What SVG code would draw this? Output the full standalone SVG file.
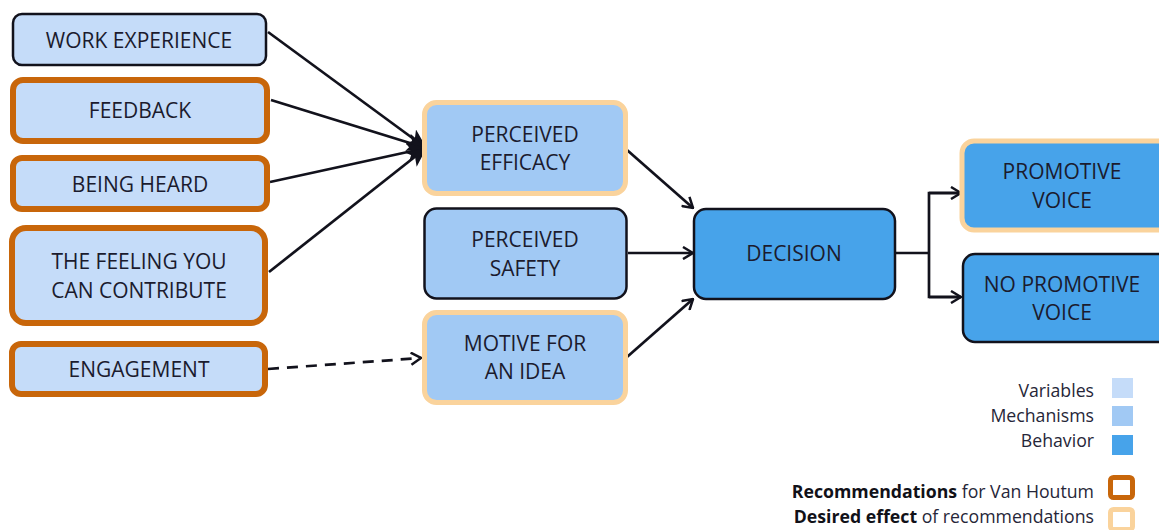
<svg xmlns="http://www.w3.org/2000/svg" width="1159" height="530" viewBox="0 0 1159 530">
  <defs>
    <style>
      text { font-family: "Open Sans", "Noto Sans", "Liberation Sans", sans-serif; fill: #1b1b2e; }
      .lbl { font-size: 21px; text-anchor: middle; }
      .leg { font-size: 17.7px; text-anchor: end; fill: #262638; }
      .var { fill: #c5dcf9; }
      .mech { fill: #a1c9f4; }
      .beh { fill: #47a3ea; }
      .plain { stroke: #12121c; stroke-width: 2.5; }
      .rec { stroke: #c8660a; stroke-width: 6; }
      .eff { stroke: #fad39c; stroke-width: 5; }
      .wire { fill: none; stroke: #12121c; stroke-width: 2.7; }
      .dash { stroke-dasharray: 11 8; }
    </style>
    <marker id="solid" viewBox="0 0 20 18" refX="19" refY="9" markerWidth="20" markerHeight="18" markerUnits="userSpaceOnUse" orient="auto">
      <path d="M0,0 L20,9 L0,18 L5,9 Z" fill="#12121c"/>
    </marker>
    <marker id="open" viewBox="0 0 12 14" refX="11" refY="7" markerWidth="12" markerHeight="14" markerUnits="userSpaceOnUse" orient="auto">
      <path d="M1,1 L11,7 L1,13" fill="none" stroke="#12121c" stroke-width="2.5" stroke-linejoin="miter"/>
    </marker>
  </defs>

  <rect width="1159" height="530" fill="#ffffff"/>

  <!-- connectors -->
  <g id="connectors">
    <line class="wire" x1="268" y1="32" x2="426" y2="148" marker-end="url(#solid)"/>
    <line class="wire" x1="271" y1="100" x2="426" y2="148" marker-end="url(#solid)"/>
    <line class="wire" x1="270" y1="182" x2="426" y2="148" marker-end="url(#solid)"/>
    <line class="wire" x1="269" y1="272" x2="426" y2="148" marker-end="url(#solid)"/>
    <line class="wire dash" x1="268" y1="369" x2="421" y2="358" marker-end="url(#open)"/>
    <line class="wire" x1="627" y1="150" x2="693" y2="208" marker-end="url(#open)"/>
    <line class="wire" x1="628" y1="253" x2="693" y2="253" marker-end="url(#open)"/>
    <line class="wire" x1="627" y1="357" x2="693" y2="299" marker-end="url(#open)"/>
    <polyline class="wire" points="896,253 929,253"/>
    <polyline class="wire" points="960,193 929,193 929,297 960,297"/>
    <line class="wire" x1="929" y1="193" x2="961" y2="193" marker-end="url(#open)"/>
    <line class="wire" x1="929" y1="297" x2="961" y2="297" marker-end="url(#open)"/>
  </g>

  <!-- variables -->
  <g id="work-experience">
    <rect class="var plain" x="13" y="14" width="253" height="51" rx="9"/>
    <text class="lbl" x="139" y="48">WORK EXPERIENCE</text>
  </g>
  <g id="feedback">
    <rect class="var rec" x="13" y="80" width="254" height="61" rx="10"/>
    <text class="lbl" x="140" y="118">FEEDBACK</text>
  </g>
  <g id="being-heard">
    <rect class="var rec" x="13" y="158" width="254" height="51" rx="9"/>
    <text class="lbl" x="140" y="192">BEING HEARD</text>
  </g>
  <g id="feeling-contribute">
    <rect class="var rec" x="12" y="228" width="253" height="95" rx="14"/>
    <text class="lbl" x="139" y="269">THE FEELING YOU</text>
    <text class="lbl" x="139" y="298">CAN CONTRIBUTE</text>
  </g>
  <g id="engagement">
    <rect class="var rec" x="12" y="344" width="253" height="50" rx="9"/>
    <text class="lbl" x="139" y="377">ENGAGEMENT</text>
  </g>

  <!-- mechanisms -->
  <g id="perceived-efficacy">
    <rect class="mech eff" x="424.5" y="102.5" width="201" height="91" rx="12"/>
    <text class="lbl" x="525" y="142">PERCEIVED</text>
    <text class="lbl" x="525" y="170">EFFICACY</text>
  </g>
  <g id="perceived-safety">
    <rect class="mech plain" x="424.5" y="208.5" width="202" height="90" rx="12"/>
    <text class="lbl" x="525" y="247">PERCEIVED</text>
    <text class="lbl" x="525" y="276">SAFETY</text>
  </g>
  <g id="motive-idea">
    <rect class="mech eff" x="424.5" y="312.5" width="201" height="90" rx="12"/>
    <text class="lbl" x="525" y="351">MOTIVE FOR</text>
    <text class="lbl" x="525" y="379">AN IDEA</text>
  </g>

  <!-- behaviour -->
  <g id="decision">
    <rect class="beh plain" x="694" y="209" width="201" height="90" rx="12"/>
    <text class="lbl" x="794" y="261">DECISION</text>
  </g>
  <g id="promotive-voice">
    <rect class="beh eff" x="962" y="141" width="210" height="89" rx="12"/>
    <text class="lbl" x="1062" y="179">PROMOTIVE</text>
    <text class="lbl" x="1062" y="208">VOICE</text>
  </g>
  <g id="no-promotive-voice">
    <rect class="beh plain" x="963" y="254" width="210" height="88" rx="12"/>
    <text class="lbl" x="1062" y="292">NO PROMOTIVE</text>
    <text class="lbl" x="1062" y="320">VOICE</text>
  </g>

  <!-- legend -->
  <g id="legend">
    <text class="leg" x="1094" y="397">Variables</text>
    <rect class="var" x="1112" y="378" width="21" height="20"/>
    <text class="leg" x="1094" y="422">Mechanisms</text>
    <rect class="mech" x="1112" y="406" width="21" height="20"/>
    <text class="leg" x="1094" y="447">Behavior</text>
    <rect class="beh" x="1112" y="435" width="21" height="20"/>
    <text class="leg" x="1094" y="498"><tspan font-weight="bold" fill="#111118">Recommendations</tspan> for Van Houtum</text>
    <rect x="1110.5" y="477.5" width="22" height="20" rx="3" fill="#ffffff" stroke="#c8660a" stroke-width="5"/>
    <text class="leg" x="1094" y="523"><tspan font-weight="bold" fill="#111118">Desired effect</tspan> of recommendations</text>
    <rect x="1110.5" y="509.5" width="22" height="20" rx="3" fill="#ffffff" stroke="#fad39c" stroke-width="5"/>
  </g>
</svg>
